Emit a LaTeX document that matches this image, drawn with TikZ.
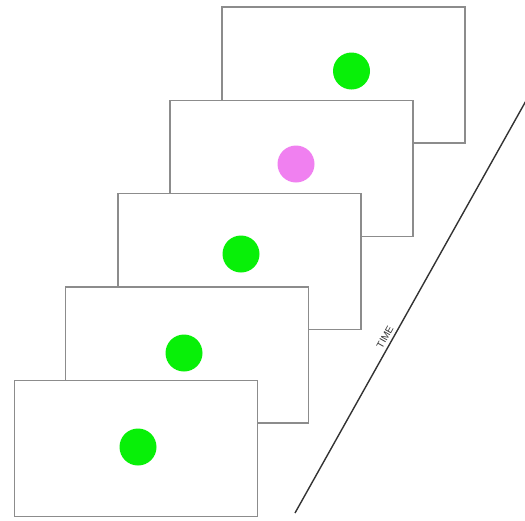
\documentclass[tikz,border=0pt]{standalone}
\usepackage{fontspec}
\setmainfont{Liberation Sans}
\begin{document}
\begin{tikzpicture}[x=1pt,y=-1pt,
  frame/.style={draw=black!45,line width=1.4pt,fill=white,rectangle,
    minimum width=243pt,minimum height=136pt,inner sep=0pt},
  dot/.style={circle,inner sep=0pt,minimum size=37pt},
  go/.style={dot,fill=dotgreen},
  odd/.style={dot,fill=dotpink}]
\definecolor{dotgreen}{RGB}{8,240,8}
\definecolor{dotpink}{RGB}{240,128,240}
\useasboundingbox (0,0) rectangle (525,520);
% stacked frames, back to front
\node[frame] (f1) at (343.5,75) {};
\node[go]    (d1) at (351.5,71) {};
\node[frame] (f2) at (291.5,168.5) {};
\node[odd]   (d2) at (296,164) {};
\node[frame] (f3) at (239.5,261.5) {};
\node[go]    (d3) at (241,254) {};
\node[frame] (f4) at (187,355) {};
\node[go]    (d4) at (184,353) {};
\node[frame] (f5) at (135.7,448.7) {};
\node[go]    (d5) at (138,447) {};
% time axis
\coordinate (t0) at (295,513);
\coordinate (t1) at (527,99);
\draw[black!80,line width=1.4pt] (t0) -- (t1);
\node[rotate=60.7,font=\fontsize{10}{11}\selectfont,inner sep=0pt,
  text=black!80] (lbl) at (385,337) {TIME};
\end{tikzpicture}
\end{document}
